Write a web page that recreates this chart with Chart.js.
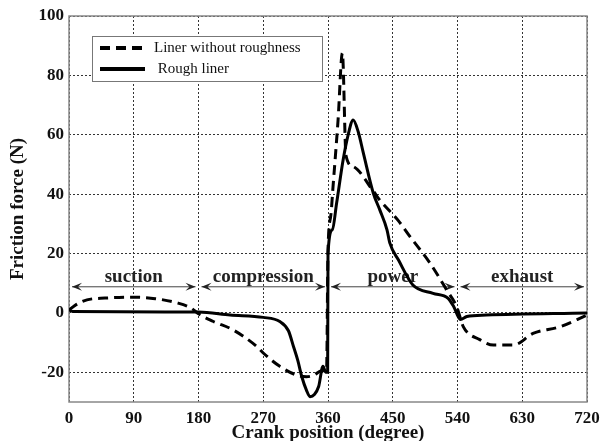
<!DOCTYPE html>
<html lang="en">
  <head>
    <meta charset="UTF-8" />
    <title>Friction force vs crank position</title>
    <script src="https://cdn.jsdelivr.net/npm/chart.js"></script>
    <style>
      body {
        margin: 0;
        background: #fff;
      }
      #chart {
        display: block;
      }
    </style>
  </head>
  <body>
    <canvas id="chart" width="600" height="441"></canvas>
    <script>
      // tick labels
      const degreeTicks = [0, 90, 180, 270, 360, 450, 540, 630, 720];
      const forceTicks = [-20, 0, 20, 40, 60, 80, 100];

      // series names
      const seriesNames = ["Liner without roughness", " Rough liner"];

      // liner without roughness (dashed)
      const smoothDeg = [0, 10, 25, 50, 90, 120, 150, 170, 180, 200, 228, 261, 270, 293, 316, 330, 340, 351, 358, 360, 364, 367, 374, 380, 385, 395, 423, 432, 458, 474, 502, 525, 539, 548, 571, 590, 618, 645, 683, 720];
      const smoothForce = [1, 2.8, 4.4, 5.0, 5.3, 4.8, 3.4, 1.6, -0.3, -2.8, -5.7, -11.3, -13.5, -18, -20.9, -21.5, -21, -19.5, -19.5, 21, 33, 42.5, 65, 87.5, 53, 49.3, 41, 38, 31, 25.7, 16.7, 7.7, 2, -4.6, -9, -10.8, -10.8, -6.9, -4.6, -0.7];

      // rough liner (solid)
      const roughDeg = [0, 5, 180, 224, 270, 293, 305, 312, 318, 323.5, 330, 335, 341, 347, 353, 357, 359.5, 360, 366, 372, 381, 388, 395, 402, 409, 423, 432, 442, 446, 458, 478, 506, 527, 535, 544, 553, 580, 720];
      const roughForce = [1, 0.5, 0.3, -0.7, -1.5, -2.9, -6, -11.3, -16, -21.4, -26, -28.2, -27.5, -24.8, -18, -20, -20, 20, 28, 37, 51.5, 60, 65, 61, 54, 40.3, 34.7, 28, 23.5, 17.8, 9.4, 6.6, 4.9, 2, -2.2, -1.2, -0.7, 0];

      // stroke annotations
      const strokeNames = ["suction", "compression", "power", "exhaust"];
      const strokeBounds = [0, 180, 360, 540, 720];
      const arrowLevel = 8.8;
      const labelLevel = 12.2;

      const serif = "'Liberation Serif', 'Times New Roman', serif";

      const toPoints = (xs, ys) => xs.map((x, i) => ({ x: x, y: ys[i] }));

      function arrowHead(ctx, tipX, y, dir) {
        ctx.beginPath();
        ctx.moveTo(tipX, y);
        ctx.lineTo(tipX - dir * 10, y - 4);
        ctx.lineTo(tipX - dir * 6, y);
        ctx.lineTo(tipX - dir * 10, y + 4);
        ctx.closePath();
        ctx.fill();
      }

      const decorations = {
        id: "decorations",
        beforeDraw(chart) {
          const ctx = chart.ctx;
          ctx.save();
          ctx.fillStyle = "#fff";
          ctx.fillRect(0, 0, chart.width, chart.height);
          ctx.restore();
        },
        beforeDatasetsDraw(chart) {
          const { ctx, chartArea: a, scales } = chart;
          const xs = scales.x;
          const ys = scales.y;
          ctx.save();
          // plot frame
          ctx.strokeStyle = "#888";
          ctx.lineWidth = 1.5;
          ctx.strokeRect(a.left, a.top, a.right - a.left, a.bottom - a.top);

          // stroke arrows and labels
          const ay = ys.getPixelForValue(arrowLevel);
          const ly = ys.getPixelForValue(labelLevel);
          ctx.strokeStyle = "#444";
          ctx.fillStyle = "#222";
          ctx.lineWidth = 1;
          ctx.font = "bold 19px " + serif;
          ctx.textAlign = "center";
          ctx.textBaseline = "middle";
          for (let i = 0; i < strokeNames.length; i++) {
            const x0 = xs.getPixelForValue(strokeBounds[i]) + 3;
            const x1 = xs.getPixelForValue(strokeBounds[i + 1]) - 3;
            ctx.beginPath();
            ctx.moveTo(x0, ay);
            ctx.lineTo(x1, ay);
            ctx.stroke();
            arrowHead(ctx, x0, ay, -1);
            arrowHead(ctx, x1, ay, 1);
            const mid = xs.getPixelForValue((strokeBounds[i] + strokeBounds[i + 1]) / 2);
            ctx.fillText(strokeNames[i], mid, ly);
          }
          ctx.restore();
        },
        afterDatasetsDraw(chart) {
          const ctx = chart.ctx;
          const sets = chart.data.datasets;
          const bx = 92, by = 36, bw = 230, bh = 45;
          ctx.save();
          ctx.fillStyle = "#fff";
          ctx.fillRect(bx, by, bw, bh);
          ctx.strokeStyle = "#777";
          ctx.lineWidth = 1;
          ctx.strokeRect(bx + 0.5, by + 0.5, bw, bh);
          ctx.font = "15px " + serif;
          ctx.textBaseline = "middle";
          ctx.textAlign = "left";
          sets.forEach((ds, i) => {
            const y = by + 12 + i * 21;
            ctx.strokeStyle = ds.borderColor;
            ctx.lineWidth = 4;
            ctx.setLineDash(ds.borderDash || []);
            ctx.beginPath();
            ctx.moveTo(100, y);
            ctx.lineTo(145, y);
            ctx.stroke();
            ctx.setLineDash([]);
            ctx.fillStyle = "#111";
            ctx.fillText(ds.label, 154, y);
          });
          ctx.restore();
        },
      };

      new Chart(document.getElementById("chart"), {
        type: "line",
        data: {
          datasets: [
            {
              label: seriesNames[0],
              data: toPoints(smoothDeg, smoothForce),
              borderColor: "#000",
              borderWidth: 3,
              borderDash: [10, 6],
              pointRadius: 0,
              cubicInterpolationMode: "monotone",
            },
            {
              label: seriesNames[1],
              data: toPoints(roughDeg, roughForce),
              borderColor: "#000",
              borderWidth: 3,
              pointRadius: 0,
              cubicInterpolationMode: "monotone",
            },
          ],
        },
        options: {
          responsive: false,
          animation: false,
          devicePixelRatio: 1,
          layout: { padding: { top: 16, right: 13, left: 0, bottom: 0 } },
          plugins: {
            legend: { display: false },
            tooltip: { enabled: false },
          },
          scales: {
            x: {
              type: "linear",
              min: 0,
              max: 720,
              afterBuildTicks: (s) => {
                s.ticks = degreeTicks.map((v) => ({ value: v }));
              },
              afterFit: (s) => {
                s.height = 39;
                s.paddingLeft = 0;
                s.paddingRight = 0;
              },
              grid: { color: "#333", lineWidth: 1, drawTicks: false },
              border: { display: false, dash: [2, 2] },
              ticks: {
                padding: 6,
                maxRotation: 0,
                color: "#111",
                font: { family: serif, size: 17, weight: "bold" },
              },
              title: {
                display: true,
                text: "Crank position (degree)",
                color: "#111",
                padding: 0,
                font: { family: serif, size: 19, weight: "bold", lineHeight: 0.8 },
              },
            },
            y: {
              min: -30,
              max: 100,
              afterBuildTicks: (s) => {
                s.ticks = forceTicks.map((v) => ({ value: v }));
              },
              afterFit: (s) => {
                s.width = 69;
                s.paddingTop = 0;
                s.paddingBottom = 0;
              },
              grid: { color: "#333", lineWidth: 1, drawTicks: false },
              border: { display: false, dash: [2, 2] },
              ticks: {
                padding: 5,
                color: "#111",
                font: { family: serif, size: 17, weight: "bold" },
              },
              title: {
                display: true,
                text: "Friction force (N)",
                color: "#111",
                padding: { top: 9, bottom: 0 },
                font: { family: serif, size: 19, weight: "bold", lineHeight: 1 },
              },
            },
          },
        },
        plugins: [decorations],
      });
    </script>
  </body>
</html>
